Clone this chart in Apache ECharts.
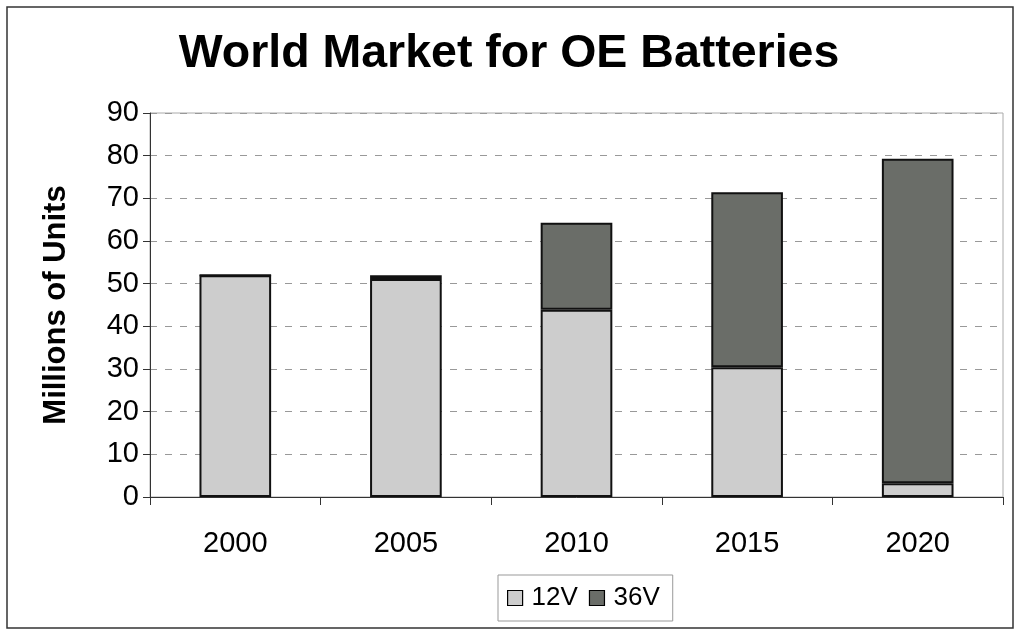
<!DOCTYPE html>
<html><head><meta charset="utf-8">
<script src="https://cdn.jsdelivr.net/npm/echarts@6/dist/echarts.min.js"></script>
<style>html,body{margin:0;padding:0;background:#fff}#c{width:1018px;height:630px}</style>
</head><body><div id="c"></div>
<script>
const categories = ['2000','2005','2010','2015','2020'];
const v12 = [52, 51.1, 43.9, 30.4, 3.2];
const v36 = [0, 0.9, 20.4, 41, 76.1];
const yTicks = [0,10,20,30,40,50,60,70,80,90];

const chart = echarts.init(document.getElementById('c'));
const F = '"Liberation Sans", Arial, sans-serif';
chart.setOption({
  animation:false,
  backgroundColor:'#fff',
  title:{text:'World Market for OE Batteries',left:'center',top:26,
    textStyle:{fontFamily:F,fontSize:46.5,fontWeight:'bold',color:'#000'}},
  graphic:[{type:'rect',shape:{x:7,y:7,width:1006,height:621},
    style:{fill:'none',stroke:'#333',lineWidth:1.5}}],
  grid:{left:150,right:15,top:113,bottom:133,show:true,borderColor:'#aaa',borderWidth:1},
  legend:{top:575,left:498,itemWidth:15,itemHeight:15,itemGap:11,icon:'rect',
    padding:[10,13,10,9],borderColor:'#999',borderWidth:1,
    textStyle:{fontFamily:F,fontSize:26,color:'#000',padding:[0,0,0,4]},
    data:[{name:'12V',itemStyle:{borderColor:'#000',borderWidth:1.2}},{name:'36V',itemStyle:{borderColor:'#000',borderWidth:1.2}}]},
  xAxis:{type:'category',data:categories,
    axisLine:{lineStyle:{color:'#333',width:1}},
    axisTick:{show:true,length:8,lineStyle:{color:'#333'}},
    axisLabel:{fontFamily:F,fontSize:29,color:'#000',margin:32}},
  yAxis:{type:'value',min:0,max:90,interval:10,
    name:'Millions of Units',nameLocation:'middle',nameGap:78,
    nameTextStyle:{fontFamily:F,fontSize:31,fontWeight:'bold',color:'#000'},
    axisLine:{show:true,lineStyle:{color:'#333',width:1}},
    axisTick:{show:true,length:7,lineStyle:{color:'#333'}},
    axisLabel:{fontFamily:F,fontSize:29,color:'#000',margin:11,
      formatter:v=>yTicks.includes(v)?String(v):''},
    splitLine:{show:true,lineStyle:{color:'#999',type:[7,8],width:1}}},
  series:[
    {name:'12V',type:'bar',stack:'s',data:v12,barWidth:'42%',
      itemStyle:{color:'#cdcdcd',borderColor:'#111',borderWidth:2}},
    {name:'36V',type:'bar',stack:'s',data:v36,barWidth:'42%',
      itemStyle:{color:'#6a6d68',borderColor:'#111',borderWidth:2}}
  ]
});
</script></body></html>
